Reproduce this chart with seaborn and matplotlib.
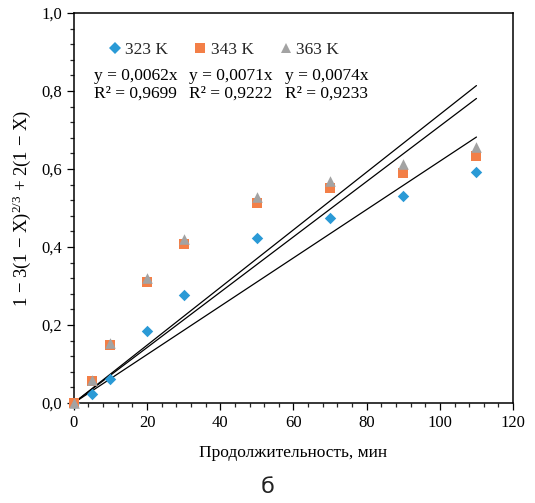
import matplotlib
matplotlib.use("Agg")
import matplotlib.pyplot as plt
from matplotlib.ticker import MultipleLocator, FuncFormatter
from matplotlib.lines import Line2D
import seaborn as sns
import pandas as pd
import numpy as np

# Duration, min
time_min = [0, 5, 10, 20, 30, 50, 70, 90, 110]
# Kinetic function values for each temperature
y_323 = [0.0, 0.023, 0.062, 0.184, 0.278, 0.422, 0.474, 0.530, 0.593]
y_343 = [0.0, 0.055, 0.149, 0.311, 0.408, 0.512, 0.551, 0.591, 0.633]
y_363 = [0.0, 0.059, 0.153, 0.320, 0.420, 0.527, 0.570, 0.613, 0.656]
series_labels = ["323 K", "343 K", "363 K"]
# Linear fits through origin
slopes = [0.0062, 0.0071, 0.0074]
r2_values = [0.9699, 0.9222, 0.9233]

sns.set_theme(style="white")
plt.rcParams["font.family"] = ["Liberation Serif", "DejaVu Serif"]
plt.rcParams["mathtext.fontset"] = "custom"
plt.rcParams["mathtext.rm"] = "Liberation Serif"
plt.rcParams["mathtext.it"] = "Liberation Serif:italic"

colors = {"323 K": "#2A9AD6", "343 K": "#F37F47", "363 K": "#A3A3A3"}
markers = {"323 K": "D", "343 K": "s", "363 K": "^"}
sizes = {"323 K": 34, "343 K": 58, "363 K": 58}

df = pd.concat([
    pd.DataFrame({"t": time_min, "val": vals, "series": lab})
    for vals, lab in zip([y_323, y_343, y_363], series_labels)
], ignore_index=True)

fig = plt.figure(figsize=(5.35, 5.03), dpi=100)
ax = fig.add_axes([0.138, 0.199, 0.821, 0.775])

# fit lines
t_fit = np.array([0, 110])
for k in slopes:
    ax.plot(t_fit, k * t_fit, color="black", lw=0.9, zorder=2)

for lab in series_labels:
    sub = df[df["series"] == lab]
    sns.scatterplot(data=sub, x="t", y="val", color=colors[lab],
                    marker=markers[lab], s=sizes[lab], linewidth=0,
                    ax=ax, zorder=3, legend=False, clip_on=False)

ax.set_xlim(0, 120)
ax.set_ylim(0, 1.0)
ax.xaxis.set_major_locator(MultipleLocator(20))
ax.xaxis.set_minor_locator(MultipleLocator(4))
ax.yaxis.set_major_locator(MultipleLocator(0.2))
ax.yaxis.set_minor_locator(MultipleLocator(0.04))
ax.yaxis.set_major_formatter(FuncFormatter(lambda v, p: f"{v:.1f}".replace(".", ",")))
ax.xaxis.set_major_formatter(FuncFormatter(lambda v, p: f"{v:.0f}"))
ax.tick_params(axis="both", which="major", direction="out", length=5, width=0.9,
               labelsize=12, colors="black", bottom=True, left=True)
ax.tick_params(axis="both", which="minor", direction="out", length=3, width=0.9,
               bottom=True, left=True)
for sp in ax.spines.values():
    sp.set_color("black")
    sp.set_linewidth(1.1)
    sp.set_visible(True)

ax.set_xlabel("Продолжительность, мин", fontsize=12.5, color="black", labelpad=10)
ax.set_ylabel(r"1 − 3(1 − X)$^{2/3}$ + 2(1 − X)", fontsize=13.5, color="black", labelpad=6)

handles = [Line2D([], [], linestyle="none", marker=markers[l], color=colors[l],
                  markeredgewidth=0, markersize=6 if l == "323 K" else 7.5)
           for l in series_labels]
ax.legend(handles, series_labels, ncol=3, frameon=False, loc="upper left",
          bbox_to_anchor=(0.034, 0.965), fontsize=12.5, handletextpad=0.0,
          columnspacing=1.25, handlelength=1.2)

eq_x = [94, 189, 285]
for x0, k, r2 in zip(eq_x, slopes, r2_values):
    txt = f"y = {k:.4f}x\nR² = {r2:.4f}".replace(".", ",")
    fig.text(x0 / 535, 1 - 68 / 503, txt, fontsize=12.5, va="top", ha="left",
             linespacing=1.1, color="black")

fig.text(268 / 535, 1 - 487 / 503, "б", fontsize=16, ha="center", va="center",
         family="DejaVu Sans", color="#222222")

fig.savefig("out.png", dpi=100)
